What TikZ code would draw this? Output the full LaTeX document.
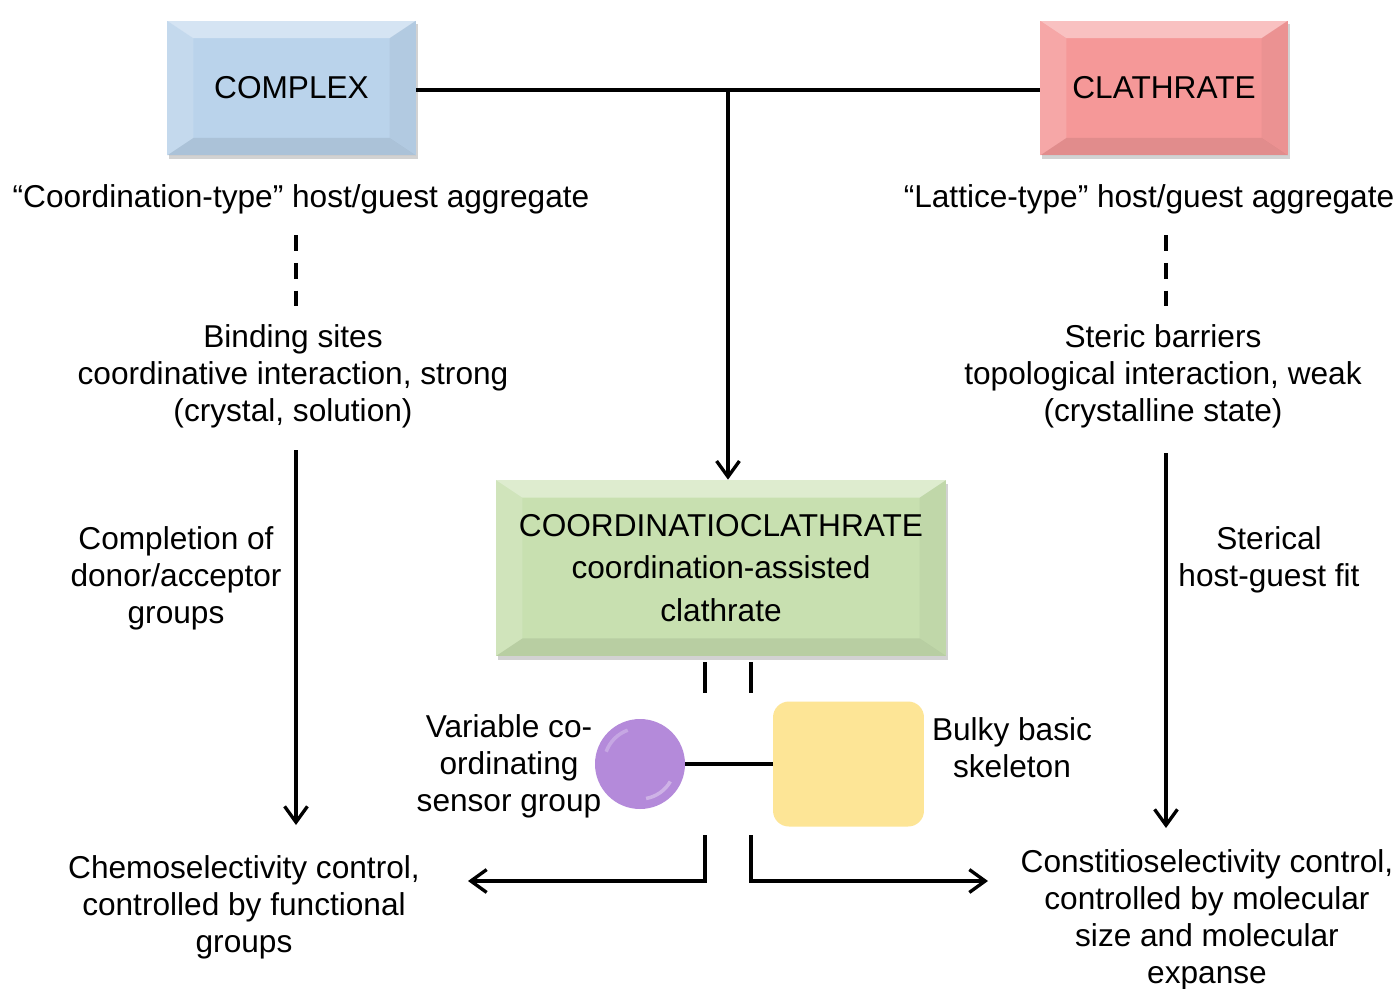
\documentclass[tikz,border=0pt]{standalone}
\usepackage{fontspec}
\setmainfont{Liberation Sans}
\usetikzlibrary{arrows.meta,shadows}
\definecolor{cblue}{RGB}{186,211,235}
\definecolor{cpink}{RGB}{245,152,152}
\definecolor{cgreen}{RGB}{200,224,176}
\definecolor{cpurple}{RGB}{180,138,218}
\definecolor{cyellow}{RGB}{253,229,150}
\tikzset{
  ln/.style={line width=1.9pt},
  arr/.style={line width=1.9pt,-{Straight Barb[length=9pt,width=13pt]}},
  dsh/.style={line width=1.9pt,dash pattern=on 9pt off 6.8pt},
  txt/.style={font=\fontsize{18pt}{21pt}\selectfont,align=center,inner sep=0pt},
  bevel/.style={
    font=\fontsize{18pt}{24pt}\selectfont, align=center, inner sep=0pt,
    drop shadow={shadow xshift=1pt,shadow yshift=-2pt,opacity=.35},
    path picture={
      \path (path picture bounding box.north west) coordinate (bvnw)
            (path picture bounding box.south east) coordinate (bvse)
            (bvse |- bvnw) coordinate (bvne)
            (bvnw |- bvse) coordinate (bvsw)
            ([shift={(15pt,-10pt)}]bvnw) coordinate (ivnw)
            ([shift={(-15pt,-10pt)}]bvne) coordinate (ivne)
            ([shift={(-15pt,10pt)}]bvse) coordinate (ivse)
            ([shift={(15pt,10pt)}]bvsw) coordinate (ivsw);
      \fill[white,opacity=.4] (bvnw) -- (bvne) -- (ivne) -- (ivnw) -- cycle;
      \fill[white,opacity=.15] (bvnw) -- (ivnw) -- (ivsw) -- (bvsw) -- cycle;
      \fill[black,opacity=.04] (bvne) -- (bvse) -- (ivse) -- (ivne) -- cycle;
      \fill[black,opacity=.08] (bvsw) -- (ivsw) -- (ivse) -- (bvse) -- cycle;
    }},
}
\begin{document}
\begin{tikzpicture}[x=0.02cm,y=-0.02cm]
\useasboundingbox[fill=white] (0,0) rectangle (1400,988);

% top boxes
\node[bevel,fill=cblue,minimum width=4.98cm,minimum height=2.7cm] (complex) at (291.5,88) {COMPLEX};
\node[bevel,fill=cpink,minimum width=4.96cm,minimum height=2.7cm] (clath) at (1164,88) {CLATHRATE};
\node[bevel,fill=cgreen,minimum width=9cm,minimum height=3.52cm] (coord) at (721,568)
  {COORDINATIOCLATHRATE\\coordination-assisted\\clathrate};

% texts
\node[txt] (ctype) at (301,199) {“Coordination-type” host/guest aggregate};
\node[txt] (ltype) at (1149,199) {“Lattice-type” host/guest aggregate};
\node[txt] (binding) at (293,376) {Binding sites\\coordinative interaction, strong\\(crystal, solution)};
\node[txt] (steric) at (1163,376) {Steric barriers\\topological interaction, weak\\(crystalline state)};
\node[txt] (completion) at (176,578) {Completion of\\donor/acceptor\\groups};
\node[txt] (sterical) at (1269,559.5) {Sterical\\host-guest fit};
\node[txt] (variable) at (509,766) {Variable co-\\ordinating\\sensor group};
\node[txt] (bulky) at (1012,747.5) {Bulky basic\\skeleton};
\node[txt] (chemo) at (244,907) {Chemoselectivity control,\\controlled by functional\\groups};
\node[txt] (constit) at (1207,919.5) {Constitioselectivity control,\\controlled by molecular\\size and molecular\\expanse};

% molecule
\node[circle,fill=cpurple,minimum size=1.8cm,inner sep=0pt] (ball) at (640,764) {};
\draw[white,opacity=.35,line width=2pt] (ball.center) ++(30:35) arc (30:80:35);
\draw[white,opacity=.25,line width=2pt] (ball.center) ++(200:36) arc (200:250:36);
\node[rounded corners=9pt,fill=cyellow,minimum width=3.02cm,minimum height=2.5cm,inner sep=0pt] (skel) at (848.5,764) {};
\draw[ln] (ball.east) -- (skel.west);

% connectors
\coordinate (jc) at (728,90);
\draw[ln] (complex.east |- jc) -- (clath.west |- jc);
\draw[arr] (jc) -- (jc |- coord.north);

\coordinate (dl1) at (296,235); \coordinate (dl2) at (296,307);
\coordinate (dr1) at (1166,235); \coordinate (dr2) at (1166,307);
\draw[dsh] (dl1) -- (dl2);
\draw[dsh] (dr1) -- (dr2);

\coordinate (al1) at (296,450); \coordinate (al2) at (296,825);
\coordinate (ar1) at (1166,453); \coordinate (ar2) at (1166,828);
\draw[arr] (al1) -- (al2);
\draw[arr] (ar1) -- (ar2);

\coordinate (s1a) at (705,662); \coordinate (s1b) at (705,693);
\coordinate (s2a) at (751,662); \coordinate (s2b) at (751,693);
\draw[ln] (s1a) -- (s1b);
\draw[ln] (s2a) -- (s2b);

\coordinate (b1a) at (705,835); \coordinate (b1b) at (468,881);
\coordinate (b2a) at (751,835); \coordinate (b2b) at (988,881);
\draw[arr] (b1a) |- (b1b);
\draw[arr] (b2a) |- (b2b);
\end{tikzpicture}
\end{document}
